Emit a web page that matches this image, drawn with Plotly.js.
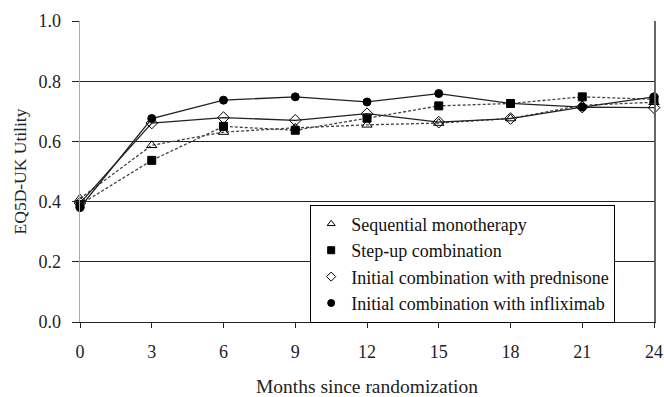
<!DOCTYPE html>
<html>
<head>
<meta charset="utf-8">
<script src="https://cdn.plot.ly/plotly-3.0.1.min.js"></script>
<style>html,body{margin:0;padding:0;background:#fff;}#chart{width:664px;height:397px;}</style>
</head>
<body>
<div id="chart"></div>
<script>
const months = [0, 3, 6, 9, 12, 15, 18, 21, 24];
const seriesNames = ["Sequential monotherapy", "Step-up combination", "Initial combination with prednisone", "Initial combination with infliximab"];
const sequential = [0.41, 0.587, 0.631, 0.645, 0.655, 0.661, 0.676, 0.72, 0.73];
const stepUp = [0.39, 0.537, 0.650, 0.637, 0.677, 0.718, 0.726, 0.748, 0.74];
const prednisone = [0.395, 0.661, 0.679, 0.670, 0.692, 0.664, 0.676, 0.714, 0.712];
const infliximab = [0.38, 0.676, 0.737, 0.748, 0.731, 0.759, 0.726, 0.714, 0.748];
const yTicks = [0, 0.2, 0.4, 0.6, 0.8, 1.0];
const yTickText = ["0.0", "0.2", "0.4", "0.6", "0.8", "1.0"];

const serif = "Liberation Serif, Times New Roman, serif";
const styles = [
  {symbol: "triangle-up-open", size: 9, dash: "3px,2px", color: "#444"},
  {symbol: "square", size: 8, dash: "3px,2px", color: "#444"},
  {symbol: "diamond-open", size: 9, dash: "solid", color: "#222"},
  {symbol: "circle", size: 8, dash: "solid", color: "#222"}
];
const values = [sequential, stepUp, prednisone, infliximab];

const traces = [];
values.forEach((v, i) => {
  traces.push({
    x: months, y: v, type: "scatter", mode: "lines+markers",
    showlegend: false, cliponaxis: false,
    line: {color: styles[i].color, width: 1.3, dash: styles[i].dash},
    marker: {symbol: styles[i].symbol, size: styles[i].size, color: "#000", line: {color: "#000", width: 1}}
  });
});
values.forEach((v, i) => {
  traces.push({
    x: [null], y: [null], type: "scatter", mode: "markers", name: seriesNames[i],
    marker: {symbol: styles[i].symbol, size: 7, color: "#000", line: {color: "#000", width: 1}}
  });
});
// right border axis
traces.push({x: [null], y: [null], yaxis: "y2", showlegend: false, hoverinfo: "skip"});

const layout = {
  width: 664, height: 397,
  margin: {l: 80, r: 10, t: 21, b: 75},
  paper_bgcolor: "#fff", plot_bgcolor: "#fff",
  font: {family: serif, color: "#222", size: 17},
  showlegend: true,
  legend: {
    x: 0.401, y: 0.39, xanchor: "left", yanchor: "top",
    bgcolor: "#fff", bordercolor: "#000", borderwidth: 1,
    font: {family: serif, size: 18, color: "#111"},
    itemwidth: 30, tracegroupgap: 0
  },
  xaxis: {
    range: [0, 24], tickvals: months, ticktext: months.map(String),
    showgrid: false, zeroline: false,
    showline: true, linecolor: "#222", linewidth: 1,
    ticks: "outside", ticklen: 5, tickcolor: "#222",
    tickfont: {family: serif, size: 18, color: "#222"},
    ticklabelstandoff: 8,
    title: {text: "Months since randomization", font: {family: serif, size: 19.5, color: "#222"}, standoff: 20}
  },
  yaxis: {
    range: [0, 1], tickvals: yTicks, ticktext: yTickText,
    showgrid: true, gridcolor: "#222", gridwidth: 1, zeroline: false,
    showline: true, linecolor: "#aaa", linewidth: 1.5,
    ticks: "outside", ticklen: 7, tickcolor: "#222",
    tickfont: {family: serif, size: 18, color: "#222"},
    ticklabelstandoff: 7,
    title: {text: "EQ5D-UK Utility", font: {family: serif, size: 17.5, color: "#222"}, standoff: 7}
  },
  yaxis2: {
    overlaying: "y", side: "right", range: [0, 1],
    showline: true, linecolor: "#666", linewidth: 1.5,
    showgrid: false, zeroline: false, showticklabels: false, ticks: ""
  }
};

Plotly.newPlot("chart", traces, layout, {staticPlot: true, displayModeBar: false});
</script>
</body>
</html>
